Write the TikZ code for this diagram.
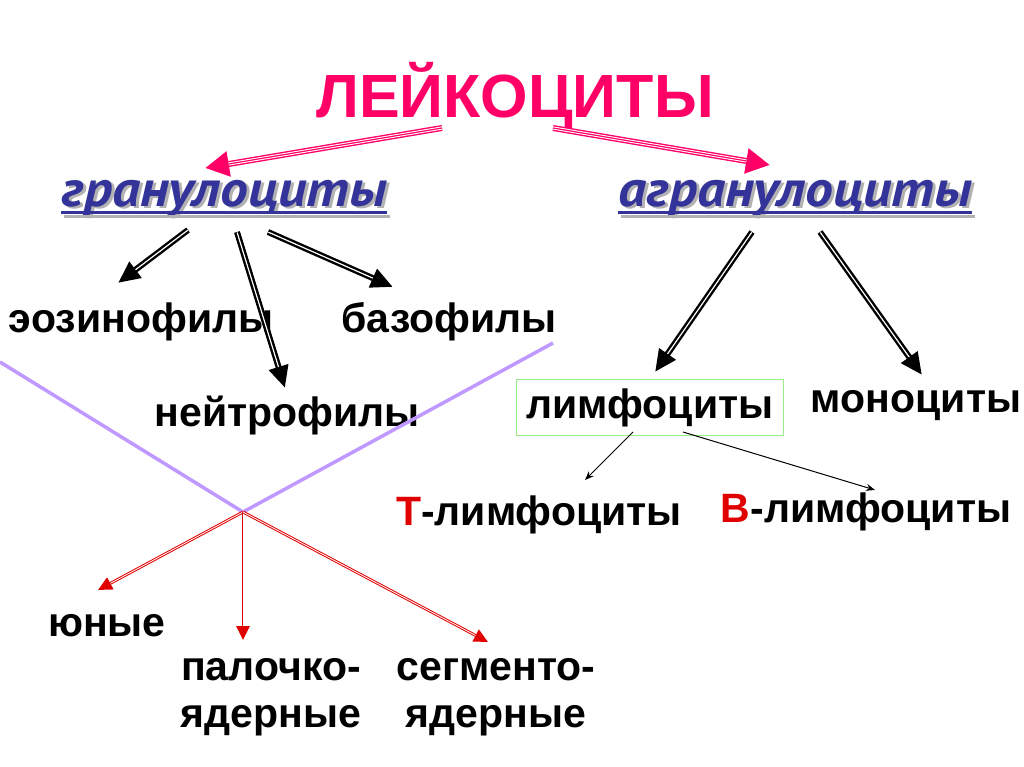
\documentclass[tikz,border=0pt]{standalone}
\usepackage{fontspec}
\setmainfont{Liberation Sans}
\newfontfamily\granfont[FakeStretch=1.09]{PT Sans}
\usetikzlibrary{arrows.meta}
\definecolor{leuk}{HTML}{FF0066}
\definecolor{gran}{HTML}{333399}
\definecolor{vline}{HTML}{BF99FF}
\definecolor{tbred}{HTML}{E00000}
\definecolor{boxgreen}{HTML}{99EE88}
\tikzset{
  every node/.style={font=\bfseries\fontsize{41}{47}\selectfont, inner sep=0pt, anchor=base},
  titletext/.style={text=leuk, font=\bfseries\fontsize{61}{66}\selectfont},
  grantext/.style={text=gran, font=\granfont\bfseries\itshape\fontsize{51}{54}\selectfont},
  shadowtext/.style={text=gray!60, font=\granfont\bfseries\itshape\fontsize{51}{54}\selectfont},
  pinkarrow/.style={draw=leuk, line width=6pt, -{Triangle[length=24pt,width=24pt]},
    postaction={draw=white, line width=1pt, double=leuk, double distance=1.2pt, -, shorten >=24pt}},
  blackarrow/.style={draw=black, line width=6pt, -{Triangle[length=22pt,width=19pt]},
    postaction={draw=white, line width=1.2pt, -, shorten >=22pt, shorten <=0.5pt}},
  redarrow/.style={draw=tbred, line width=2.8pt, -{Triangle[length=14pt,width=13pt]},
    postaction={draw=white, line width=0.8pt, -, shorten >=14pt}},
  thinarrow/.style={draw=black, line width=1pt, -{Stealth[length=9pt,width=7pt]}},
}
\begin{document}
\begin{tikzpicture}[x=1pt,y=-1pt]
\useasboundingbox (0,0) rectangle (1024,767);
\node[titletext] (leuko) at (515,118) {ЛЕЙКОЦИТЫ};
\node[shadowtext] (granshadow) at (227,209) {гранулоциты};
\node[grantext] (granulo) at (224,207) {гранулоциты};
\node[shadowtext] (agranshadow) at (798,209) {агранулоциты};
\node[grantext] (agranulo) at (795,207) {агранулоциты};
\draw[gray!60, line width=3pt] ([yshift=-8pt]granshadow.base west) -- ([yshift=-8pt]granshadow.base east);
\draw[gran, line width=3pt] ([yshift=-6pt]granulo.base west) -- ([yshift=-6pt]granulo.base east);
\draw[gray!60, line width=3pt] ([yshift=-8pt]agranshadow.base west) -- ([yshift=-8pt]agranshadow.base east);
\draw[gran, line width=3pt] ([yshift=-6pt]agranulo.base west) -- ([yshift=-6pt]agranulo.base east);
\node (eos) at (141,332) {эозинофилы};
\node (baso) at (449,332) {базофилы};
\node (neutro) at (287,426) {нейтрофилы};
\node[draw=boxgreen, line width=1pt, inner xsep=10pt, inner ysep=9pt] (lympho) at (650,418) {лимфоциты};
\node (mono) at (916,412) {моноциты};
\node (tlympho) at (539,525) {\textcolor{tbred}{Т}-лимфоциты};
\node (blympho) at (866,522) {\textcolor{tbred}{В}-лимфоциты};
\node (young) at (107,636) {юные};
\node[align=center] (rod) at (271,727) {палочко-\\ядерные};
\node[align=center] (segm) at (496,727) {сегменто-\\ядерные};
\coordinate (vleft) at (0,362);
\coordinate (vtip) at (243,512);
\coordinate (vright) at (553,343);
\draw[vline, line width=3.5pt] (vleft) -- (vtip) -- (vright);
\draw[pinkarrow] ([shift={(-73,10)}]leuko.base) -- ([shift={(-19,-39)}]granulo.base);
\draw[pinkarrow] ([shift={(38,10)}]leuko.base) -- ([shift={(-25,-42)}]agranulo.base);
\draw[blackarrow] ([shift={(-36,23)}]granulo.base) -- ([shift={(-23,-49)}]eos.base);
\draw[blackarrow] ([shift={(13,25)}]granulo.base) -- ([shift={(-2,-38)}]neutro.base);
\draw[blackarrow] ([shift={(44,25)}]granulo.base) -- ([shift={(-56,-45)}]baso.base);
\draw[blackarrow] ([shift={(-43,25)}]agranulo.base) -- ([shift={(5,-46)}]lympho.base);
\draw[blackarrow] ([shift={(25,25)}]agranulo.base) -- ([shift={(6,-37)}]mono.base);
\draw[thinarrow] ([shift={(-17,14)}]lympho.base) -- ([shift={(46,-45)}]tlympho.base);
\draw[thinarrow] ([shift={(33,14)}]lympho.base) -- ([shift={(9,-32)}]blympho.base);
\draw[redarrow] (vtip) -- ([shift={(-9,-46)}]young.base);
\draw[redarrow] (vtip) -- ([shift={(-28,-87)}]rod.base);
\draw[redarrow] (vtip) -- ([shift={(-8,-85)}]segm.base);
\end{tikzpicture}
\end{document}
